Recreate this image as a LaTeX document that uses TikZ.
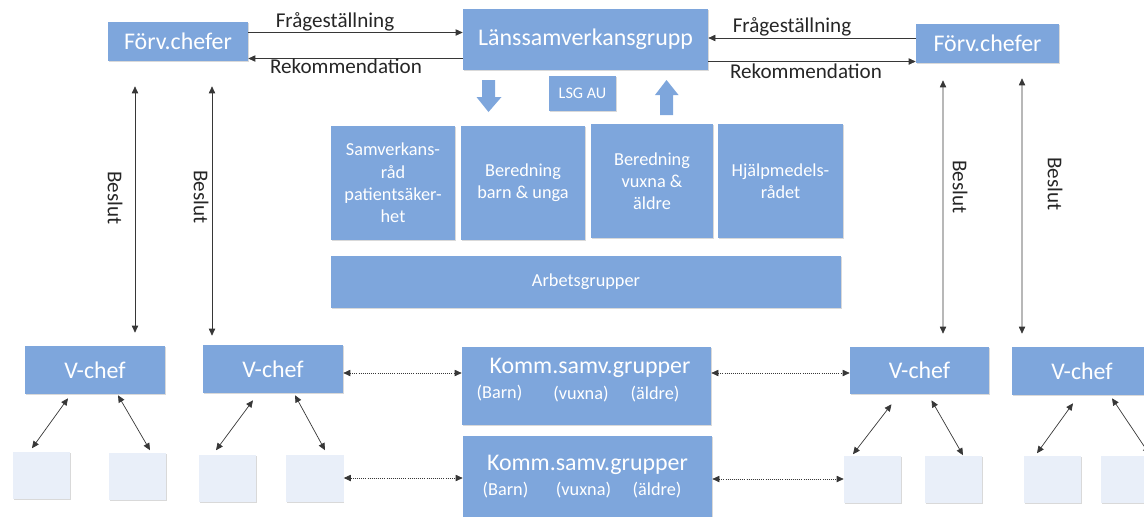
\documentclass[tikz,border=0pt]{standalone}
\usepackage{fontspec}
\setmainfont{Carlito}
\usetikzlibrary{arrows.meta,calc,shadows}
\definecolor{boxblue}{RGB}{126,166,220}
\definecolor{boxlight}{RGB}{233,239,249}
\definecolor{linegray}{RGB}{55,55,55}
\tikzset{
	boxshadow/.style={drop shadow={shadow xshift=0.5pt, shadow yshift=-0.9pt, opacity=0.3}},
	bluebox/.style={fill=boxblue, draw=none, text=white, align=center, inner sep=0pt, boxshadow},
	lightbox/.style={fill=boxlight, draw=none, minimum width=1.425cm, minimum height=1.175cm, boxshadow},
	bigtext/.style={font=\fontsize{17}{20}\selectfont},
	smalltext/.style={font=\fontsize{13}{15.8}\selectfont},
	labeltext/.style={font=\fontsize{15}{18}\selectfont, text=black!85},
	conn/.style={draw=linegray, line width=0.5pt, -{Triangle[length=5pt,width=4.5pt]}},
	both/.style={conn, {Triangle[length=5pt,width=4.5pt]}-{Triangle[length=5pt,width=4.5pt]}},
	dots/.style={both, densely dotted},
}
\begin{document}
\begin{tikzpicture}[x=0.025cm, y=-0.025cm]
	\useasboundingbox (0,0) rectangle (1144,516);
	\clip (0,0) rectangle (1144,516);
	% top row
	\node[bluebox, bigtext, minimum width=3.5cm, minimum height=0.975cm] (forvl) at (178,41.5) {Förv.chefer};
	\node[bluebox, bigtext, minimum width=6.125cm, minimum height=1.525cm] (lsg) at (585.5,39.5) {Länssamverkansgrupp};
	\node[bluebox, bigtext, minimum width=3.575cm, minimum height=0.975cm] (forvr) at (987.5,43.5) {Förv.chefer};
	\node[bluebox, font=\fontsize{11.5}{14}\selectfont, minimum width=1.675cm, minimum height=0.875cm] (lsgau) at (582.5,93.5) {LSG AU};
	\fill[boxblue] (482,80) -- (495,80) -- (495,97) -- (501.5,97) -- (488.5,112) -- (476.5,97) -- (482,97) -- cycle;
	\fill[boxblue] (660,115) -- (673,115) -- (673,95) -- (678.5,95) -- (666.5,80) -- (655,95) -- (660,95) -- cycle;
	% middle
	\node[bluebox, smalltext, minimum width=3.1cm, minimum height=2.85cm] (samv) at (393,183) {Samverkans-\\råd\\patientsäker-\\het};
	\node[bluebox, smalltext, minimum width=3.1cm, minimum height=2.85cm] (barn) at (523,183) {Beredning\\barn \& unga};
	\node[bluebox, smalltext, minimum width=3.05cm, minimum height=2.85cm] (vuxna) at (652,181) {Beredning\\vuxna \&\\äldre};
	\node[bluebox, smalltext, minimum width=3.125cm, minimum height=2.85cm] (hjalp) at (780.5,181) {Hjälpmedels-\\rådet};
	\node[bluebox, smalltext, minimum width=12.75cm, minimum height=1.3cm] (arb) at (586,282) {Arbetsgrupper};
	% bottom
	\node[bluebox, bigtext, minimum width=3.5cm, minimum height=1.2cm] (vchef1) at (95,370) {V-chef};
	\node[bluebox, bigtext, minimum width=3.5cm, minimum height=1.2cm] (vchef2) at (273,369) {V-chef};
	\node[bluebox, bigtext, minimum width=3.475cm, minimum height=1.175cm] (vchef3) at (919.5,370.5) {V-chef};
	\node[bluebox, bigtext, minimum width=3.5cm, minimum height=1.2cm] (vchef4) at (1082,371) {V-chef};
	\node[bluebox, minimum width=6.225cm, minimum height=1.95cm] (komm1) at (586.5,386) {};
	\node[bigtext, text=white] at (590,368) {Komm.samv.grupper};
	\node[smalltext, text=white] at (499.5,393) {(Barn)};
	\node[smalltext, text=white] at (581,394) {(vuxna)};
	\node[smalltext, text=white] at (655,394) {(äldre)};
	\node[bluebox, minimum width=6.225cm, minimum height=2.1cm] (komm2) at (587.5,478) {};
	\node[bigtext, text=white] at (587.5,465) {Komm.samv.grupper};
	\node[smalltext, text=white] at (505.5,490) {(Barn)};
	\node[smalltext, text=white] at (583.5,490) {(vuxna)};
	\node[smalltext, text=white] at (657,490) {(äldre)};
	\node[lightbox] (sq1) at (41.5,475) {};
	\node[lightbox] (sq2) at (137.5,476) {};
	\node[lightbox] (sq3) at (227.5,478) {};
	\node[lightbox] (sq4) at (315,478) {};
	\node[lightbox] (sq5) at (872.5,479) {};
	\node[lightbox] (sq6) at (953.5,479) {};
	\node[lightbox] (sq7) at (1052.5,479) {};
	\node[lightbox] (sq8) at (1129.5,479) {};
	% top connectors
	\coordinate (fq1) at ($(forvl.east)+(0,-9)$);
	\coordinate (rk1) at ($(forvl.east)+(0,17)$);
	\coordinate (fq2) at ($(forvr.west)+(0,-5.5)$);
	\coordinate (rk2) at ($(forvr.west)+(0,18)$);
	\draw[conn] (fq1) -- (fq1 -| lsg.west);
	\draw[conn] (rk1 -| lsg.west) -- (rk1);
	\draw[conn] (fq2) -- (fq2 -| lsg.east);
	\draw[conn] (rk2 -| lsg.east) -- (rk2);
	\node[labeltext] at (335,22) {Frågeställning};
	\node[labeltext] at (346,66.5) {Rekommendation};
	\node[labeltext] at (792,26.5) {Frågeställning};
	\node[labeltext] at (806,71.5) {Rekommendation};
	% beslut
	\draw[both] ($(forvl.south)+(-43,25)$) -- ($(vchef1.north)+(40,-13)$);
	\draw[both] ($(forvl.south)+(34,25)$) -- ($(vchef2.north)+(-61,-9)$);
	\draw[both] ($(forvr.south)+(-44.5,17)$) -- ($(vchef3.north)+(23.5,-13)$);
	\draw[both] ($(forvr.south)+(34.5,15)$) -- ($(vchef4.north)+(-60,-13)$);
	\node[labeltext, rotate=-90] at (115,198) {Beslut};
	\node[labeltext, rotate=-90] at (201,197) {Beslut};
	\node[labeltext, rotate=-90] at (960,187) {Beslut};
	\node[labeltext, rotate=-90] at (1055,184) {Beslut};
	% v-chef to squares
	\draw[both] ($(vchef1.south)+(-27,4)$) -- ($(sq1.north)+(-9.5,-3)$);
	\draw[both] ($(vchef1.south)+(23,1)$) -- ($(sq2.north)+(12.5,-2)$);
	\draw[both] ($(vchef2.south)+(-20,7)$) -- ($(sq3.north)+(-11.5,-4)$);
	\draw[both] ($(vchef2.south)+(22,2)$) -- ($(sq4.north)+(10,-4)$);
	\draw[both] ($(vchef3.south)+(-28,10)$) -- ($(sq5.north)+(-19.5,-1)$);
	\draw[both] ($(vchef3.south)+(12,6)$) -- ($(sq6.north)+(9.5,0)$);
	\draw[both] ($(vchef4.south)+(-9,8)$) -- ($(sq7.north)+(-15.5,-2)$);
	\draw[both] ($(vchef4.south)+(30,3)$) -- ($(sq8.north)+(20,-1)$);
	% dotted links
	\coordinate (dt1) at ($(vchef2.east)+(0,4)$);
	\coordinate (dt2) at ($(komm1.east)+(0,-13)$);
	\coordinate (dt4) at ($(komm2.east)+(0,1)$);
	\draw[dots] (dt1) -- (dt1 -| komm1.west);
	\draw[dots] (dt2) -- (dt2 -| vchef3.west);
	\draw[dots] (sq4.east) -- (sq4.east -| komm2.west);
	\draw[dots] (dt4) -- (dt4 -| sq5.west);
\end{tikzpicture}
\end{document}
